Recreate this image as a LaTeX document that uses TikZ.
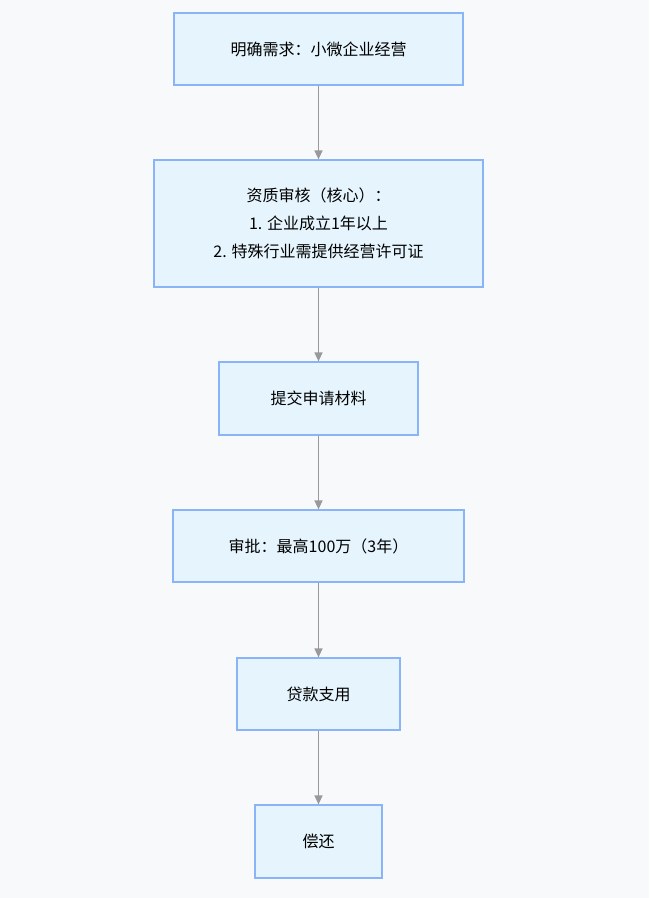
\documentclass[tikz,border=0pt]{standalone}
\usepackage{fontspec}
\setmainfont{Noto Sans CJK SC}
\usetikzlibrary{arrows.meta, positioning}
\definecolor{bgc}{HTML}{F8F9FB}
\definecolor{boxfill}{HTML}{E6F5FD}
\definecolor{boxline}{HTML}{8AB4F8}
\definecolor{arrowc}{HTML}{999999}
\tikzset{%
	stage/.style={draw=boxline, fill=boxfill, line width=1.2pt, rectangle, align=center,%
		inner sep=0pt, minimum height=72pt, font=\fontsize{16}{28}\selectfont},
	flow/.style={-{Triangle[length=9pt, width=8pt]}, draw=arrowc, line width=1.2pt}
}

\begin{document}
\begin{tikzpicture}[x=1pt, y=-1pt]
	\fill[bgc] (0,0) rectangle (649,898);
	\useasboundingbox (0,0) rectangle (649,898);

	\node[stage, minimum width=289pt] (need) at (318.5,49) {明确需求：小微企业经营};
	\node[stage, minimum width=329pt, minimum height=127pt] (check) at (318.5,223.5)
		{资质审核（核心）：\\1. 企业成立1年以上\\2. 特殊行业需提供经营许可证};
	\node[stage, minimum width=199pt, minimum height=73pt] (submit) at (318.5,398.5) {提交申请材料};
	\node[stage, minimum width=291pt] (approve) at (318.5,546) {审批：最高100万（3年）};
	\node[stage, minimum width=163pt] (use) at (318.5,694) {贷款支用};
	\node[stage, minimum width=127pt, minimum height=73pt] (repay) at (318.5,841.5) {偿还};

	\draw[flow] (need) -- (check);
	\draw[flow] (check) -- (submit);
	\draw[flow] (submit) -- (approve);
	\draw[flow] (approve) -- (use);
	\draw[flow] (use) -- (repay);
\end{tikzpicture}
\end{document}
